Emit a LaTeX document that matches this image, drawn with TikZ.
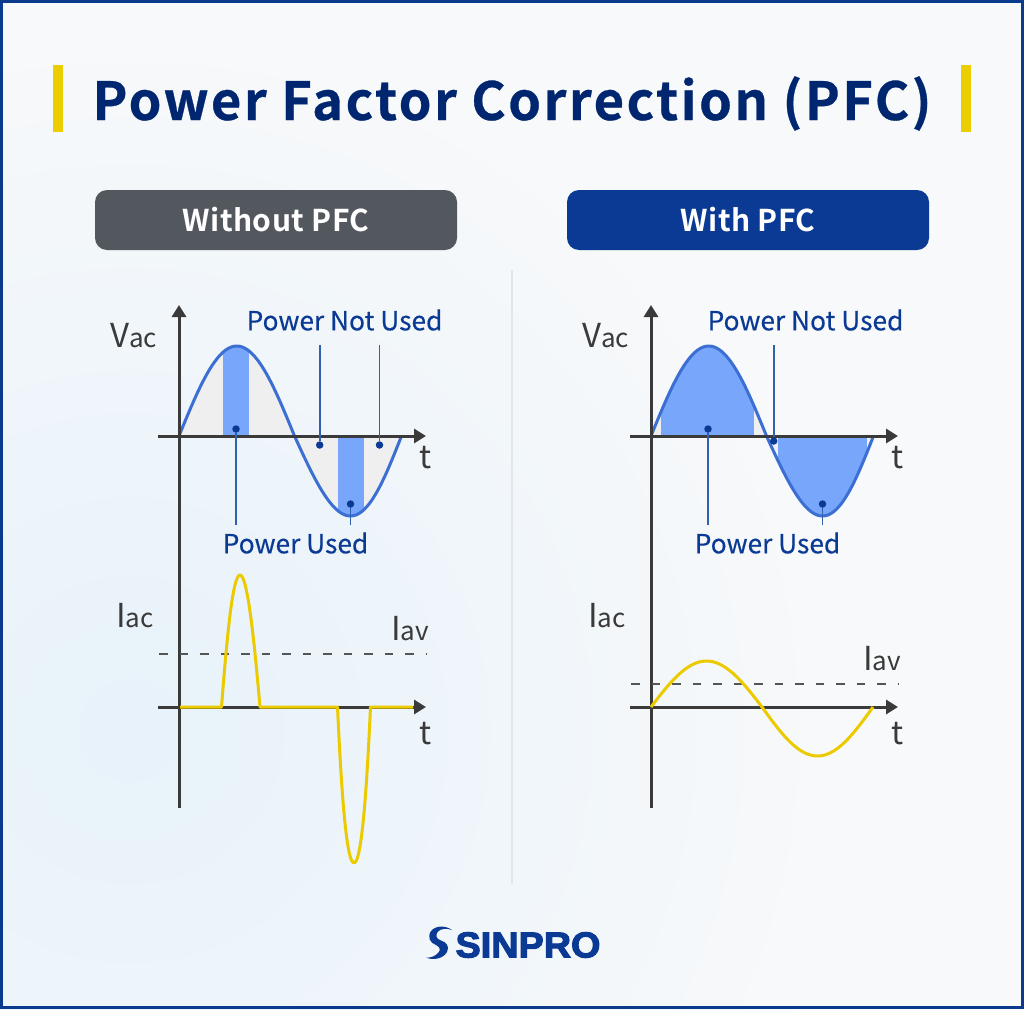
\documentclass[tikz,border=0pt]{standalone}
\usepackage{fontspec}
\setmainfont{Noto Sans CJK SC}
\newfontfamily\titlefont[LetterSpace=4.7,FakeBold=0.6]{Noto Sans CJK SC Bold}
\newfontfamily\btnfont[LetterSpace=1.5]{Noto Sans CJK SC Bold}
\newfontfamily\labelfont[FakeBold=0.3]{Noto Sans CJK SC}
\newfontfamily\logofont[FakeBold=3,FakeStretch=1.05]{Liberation Sans Bold}
\usetikzlibrary{arrows.meta}
\definecolor{navy}{HTML}{0A3A94}
\definecolor{titleC}{HTML}{00266F}
\definecolor{frame}{HTML}{0A3A8C}
\definecolor{barY}{HTML}{ECCD00}
\definecolor{slate}{HTML}{53575E}
\definecolor{axisC}{HTML}{3A3A3A}
\definecolor{sineC}{HTML}{3B6FD4}
\definecolor{bandC}{HTML}{78A6FB}
\definecolor{greyC}{HTML}{EFEFEF}
\definecolor{leadC}{HTML}{2F62AE}
\definecolor{dashC}{HTML}{555555}
\definecolor{yelC}{HTML}{EBCB00}
\definecolor{divC}{HTML}{E3E6E9}
\definecolor{bgA}{HTML}{F8F9FA}
\definecolor{bgB}{HTML}{E7F2FA}
\tikzset{
 axis/.style={draw=axisC,line width=3pt,-{Triangle[length=12pt,width=14pt]}},
 sine/.style={draw=sineC,line width=3pt,line join=round},
 wave/.style={draw=yelC,line width=3pt,line join=round},
 lead/.style={draw=leadC,line width=1.6pt},
 dotn/.style={circle,fill=navy,inner sep=0pt,minimum size=7.5pt},
 avg/.style={draw=dashC,line width=1.3pt,dash pattern=on 8.5pt off 12pt},
 plabel/.style={text=navy,font=\labelfont\fontsize{26.3}{30}\selectfont,inner sep=0pt},
 alabel/.style={text=axisC,font=\fontsize{32}{36}\selectfont,inner sep=0pt},
 btn/.style={rounded corners=12pt,minimum width=362pt,minimum height=60pt,inner sep=0pt,text=white,font=\btnfont\fontsize{30}{34}\selectfont},
 ybar/.style={fill=barY,draw=none}
}
\newcommand{\sinepath}{plot[domain=0:180,samples=50,smooth] ({179+\x/180*115.5},{436-90*sin(\x)}) -- plot[domain=0:180,samples=50,smooth] ({294.5+\x/180*107+2.5*sin(\x)},{436+80*sin(\x)})}
\newcommand{\acl}[1]{{\fontsize{33}{36}\selectfont #1}}
\newcommand{\acs}[1]{{\fontsize{26}{30}\selectfont #1}}
\begin{document}
\begin{tikzpicture}[x=1pt,y=-1pt]
\useasboundingbox (0,0) rectangle (1024,1009);
\fill[bgA] (0,0) rectangle (1024,1009);
\begin{scope}
\clip (0,0) rectangle (1024,1009);
\shade[inner color=bgB,outer color=bgA,draw=none] (130,730) circle (720);
\end{scope}
\draw[frame,line width=3pt] (1.5,1.5) rectangle (1022.5,1007.5);
% title
\fill[ybar] (53,65) rectangle (63,132);
\fill[ybar] (961,65) rectangle (971,132);
\node[text=titleC,inner sep=0pt,anchor=base,font=\titlefont\fontsize{52.5}{60}\selectfont] (title) at (512,120) {Power Factor Correction (PFC)};
% buttons
\node[btn,fill=slate] (b1) at (276,220) {Without PFC};
\node[btn,fill=navy] (b2) at (748,220) {With PFC};
\coordinate (d1) at (512,270); \coordinate (d2) at (512,884);
\draw[divC,line width=2pt] (d1) -- (d2);
% LEFT top
\begin{scope}
\begin{scope}
\clip \sinepath -- cycle;
\fill[greyC] (179,340) rectangle (405,520);
\fill[bandC] (223,340) rectangle (249,436);
\fill[bandC] (338,436) rectangle (364,520);
\end{scope}
\draw[sine] \sinepath;
\end{scope}
\coordinate (xa1) at (158,436); \coordinate (xa2) at (426,436);
\coordinate (ya1) at (179,808); \coordinate (ya2) at (179,305);
\draw[axis] (xa1) -- (xa2);
\draw[axis] (ya1) -- (ya2);
\node[dotn] (u1) at (236,429) {}; \coordinate (u1e) at (236,525);
\node[dotn] (u2) at (350.5,504) {}; \coordinate (u2e) at (350.5,525);
\node[dotn] (n1) at (319.7,445) {}; \coordinate (n1e) at (319.7,345);
\node[dotn] (n2) at (379.5,445) {}; \coordinate (n2e) at (379.5,345);
\draw[lead] (u1) -- (u1e); \draw[lead] (u2) -- (u2e);
\draw[lead] (n1) -- (n1e); \draw[lead] (n2) -- (n2e);
\node[plabel] (pn1) at (344.5,320) {Power Not Used};
\node[plabel] (pu1) at (295.5,543) {Power Used};
\node[alabel,anchor=base west] (v1) at (110,347) {\acl{V}\acs{ac}};
\node[alabel,anchor=base] (t1) at (426,468) {t};
% LEFT bottom
\coordinate (xb1) at (158,707); \coordinate (xb2) at (426,707);
\draw[axis] (xb1) -- (xb2);
\coordinate (av1) at (159,654); \coordinate (av2) at (427,654);
\draw[avg] (av1) -- (av2);
\draw[wave] (180,707) -- (221.5,707) .. controls (226,650) and (232,575) .. (240,575) .. controls (248,575) and (255,650) .. (260,707) -- (337.5,707) .. controls (340,760) and (345,863) .. (354,863) .. controls (363,863) and (368,760) .. (370.5,707) -- (413,707);
\node[alabel,anchor=base west] (i1) at (116,627) {\acl{I}\acs{ac}};
\node[alabel,anchor=base west] (iv1) at (391,640) {\acl{I}\acs{av}};
\node[alabel,anchor=base] (t2) at (426,744) {t};
% RIGHT top
\begin{scope}[xshift=472pt]
\begin{scope}
\clip \sinepath -- cycle;
\fill[greyC] (179,340) rectangle (405,520);
\fill[bandC] (189,340) rectangle (282,436);
\fill[bandC] (305.5,436) rectangle (394.5,520);
\end{scope}
\draw[sine] \sinepath;
\end{scope}
\coordinate (xc1) at (630,436); \coordinate (xc2) at (898,436);
\coordinate (yc1) at (651,808); \coordinate (yc2) at (651,305);
\draw[axis] (xc1) -- (xc2);
\draw[axis] (yc1) -- (yc2);
\node[dotn] (u3) at (708,429) {}; \coordinate (u3e) at (708,525);
\node[dotn] (u4) at (822.5,504) {}; \coordinate (u4e) at (822.5,525);
\node[dotn] (n3) at (773.7,441) {}; \coordinate (n3e) at (773.7,345);
\draw[lead] (u3) -- (u3e); \draw[lead] (u4) -- (u4e); \draw[lead] (n3) -- (n3e);
\node[plabel] (pn2) at (805.5,320) {Power Not Used};
\node[plabel] (pu2) at (767.5,543) {Power Used};
\node[alabel,anchor=base west] (v2) at (582,347) {\acl{V}\acs{ac}};
\node[alabel,anchor=base] (t3) at (898,468) {t};
% RIGHT bottom
\coordinate (xd1) at (630,707); \coordinate (xd2) at (898,707);
\draw[axis] (xd1) -- (xd2);
\coordinate (av3) at (631,684); \coordinate (av4) at (899,684);
\draw[avg] (av3) -- (av4);
\draw[wave] plot[domain=0:180,samples=40,smooth] ({651+\x/180*111},{707-46*sin(\x)}) -- plot[domain=0:180,samples=40,smooth] ({762+\x/180*111},{707+49*sin(\x)});
\node[alabel,anchor=base west] (i2) at (588,627) {\acl{I}\acs{ac}};
\node[alabel,anchor=base west] (iv2) at (863,670) {\acl{I}\acs{av}};
\node[alabel,anchor=base] (t4) at (898,744) {t};
% logo
\fill[navy] (452,930) .. controls (446,925.5) and (436,925) .. (431,931) .. controls (427,937) and (430,943) .. (436,945) .. controls (440,947) and (441,950) .. (438,953) .. controls (435,956.5) and (430,958) .. (426,957.5) .. controls (433,960.5) and (443,959) .. (447,952) .. controls (450,946) and (446,942) .. (441,940.5) .. controls (436,939) and (435,935) .. (438,931.5) .. controls (441,928.5) and (447,928) .. (452,930) -- cycle;
\node[text=navy,inner sep=0pt,font=\logofont\fontsize{36}{40}\selectfont] (logo) at (528,945) {SINPRO};
\end{tikzpicture}
\end{document}
